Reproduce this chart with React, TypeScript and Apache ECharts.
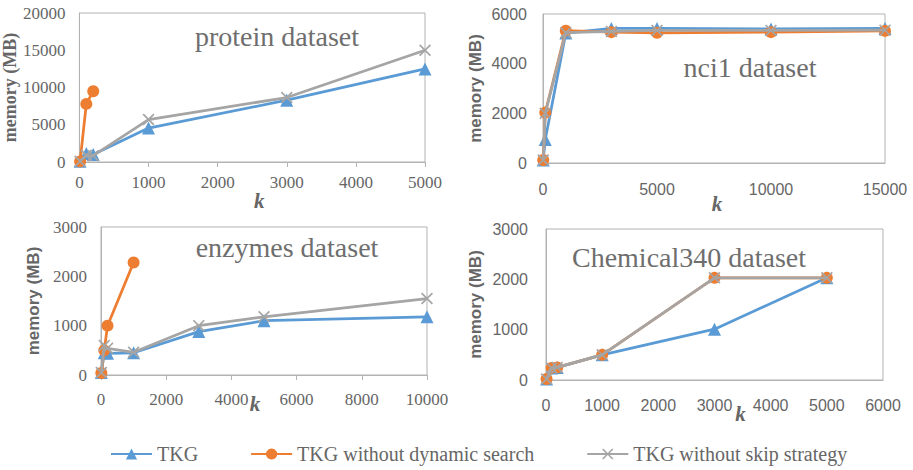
import React, { useEffect, useRef } from "react";
import * as echarts from "echarts";

// ---------- data ----------
const seriesNames = ["TKG", "TKG without dynamic search", "TKG without skip strategy"];
const panelTitles = ["protein dataset", "nci1 dataset", "enzymes dataset", "Chemical340 dataset"];

const proteinK = [10, 100, 200, 1000, 3000, 5000];
const proteinTKG = [100, 1150, 1000, 4550, 8300, 12500];
const proteinNoDynK = [10, 100, 200];
const proteinNoDyn = [80, 7800, 9500];
const proteinNoSkip = [100, 900, 850, 5700, 8650, 15000];
const proteinXTicks = [0, 1000, 2000, 3000, 4000, 5000];
const proteinYTicks = [0, 5000, 10000, 15000, 20000];

const nci1K = [10, 100, 1000, 3000, 5000, 10000, 15000];
const nci1TKG = [120, 950, 5230, 5420, 5420, 5400, 5420];
const nci1NoDyn = [120, 2030, 5330, 5270, 5240, 5270, 5320];
const nci1NoSkip = [120, 2000, 5250, 5300, 5340, 5340, 5350];
const nci1XTicks = [0, 5000, 10000, 15000];
const nci1YTicks = [0, 2000, 4000, 6000];

const enzymesK = [10, 100, 200, 1000, 3000, 5000, 10000];
const enzymesTKG = [50, 450, 440, 450, 880, 1100, 1180];
const enzymesNoDynK = [10, 100, 200, 1000];
const enzymesNoDyn = [40, 500, 1000, 2280];
const enzymesNoSkip = [50, 600, 540, 460, 1000, 1180, 1550];
const enzymesXTicks = [0, 2000, 4000, 6000, 8000, 10000];
const enzymesYTicks = [0, 1000, 2000, 3000];

const chemK = [10, 100, 200, 1000, 3000, 5000];
const chemTKG = [20, 240, 250, 500, 1010, 2030];
const chemNoDyn = [20, 240, 250, 500, 2030, 2030];
const chemNoSkip = [20, 240, 250, 500, 2030, 2030];
const chemXTicks = [0, 1000, 2000, 3000, 4000, 5000, 6000];
const chemYTicks = [0, 1000, 2000, 3000];

// ---------- style ----------
const BLUE = "#5B9BD5";
const ORANGE = "#ED7D31";
const GRAY = "#A5A5A5";
const TEXT = "#666666";
const BORDER = "#B3B3B3";
const SERIF = "'Liberation Serif', 'Times New Roman', serif";
const SANS = "'Liberation Sans', Arial, sans-serif";
const CROSS = "path://M1,0L5,4L9,0L10,1L6,5L10,9L9,10L5,6L1,10L0,9L4,5L0,1Z";

const zip = (xs: number[], ys: number[]) => ys.map((y, i) => [xs[i], y]);

type Panel = {
  grid: { left: number; top: number; width: number; height: number };
  xTicks: number[];
  yTicks: number[];
  labelFont: string;
  yTitleFont: string;
  xMargin: number;
  yMargin: number;
  yGap: number;
  kGap: number;
  kShift: number;
  xTickShow: boolean;
  title: { x: number; y: number };
  data: number[][][];
};

const panels: Panel[] = [
  {
    grid: { left: 79, top: 13, width: 346, height: 149 },
    xTicks: proteinXTicks,
    yTicks: proteinYTicks,
    labelFont: SERIF,
    yTitleFont: SERIF,
    xMargin: 12,
    yMargin: 14,
    yGap: 56,
    kGap: 28,
    kShift: 7,
    xTickShow: true,
    title: { x: 277, y: 36 },
    data: [zip(proteinK, proteinTKG), zip(proteinNoDynK, proteinNoDyn), zip(proteinK, proteinNoSkip)],
  },
  {
    grid: { left: 543, top: 14, width: 342, height: 149 },
    xTicks: nci1XTicks,
    yTicks: nci1YTicks,
    labelFont: SANS,
    yTitleFont: SANS,
    xMargin: 18,
    yMargin: 16,
    yGap: 59,
    kGap: 30,
    kShift: 3,
    xTickShow: false,
    title: { x: 750, y: 67 },
    data: [zip(nci1K, nci1TKG), zip(nci1K, nci1NoDyn), zip(nci1K, nci1NoSkip)],
  },
  {
    grid: { left: 101, top: 227, width: 326, height: 148 },
    xTicks: enzymesXTicks,
    yTicks: enzymesYTicks,
    labelFont: SERIF,
    yTitleFont: SANS,
    xMargin: 16,
    yMargin: 14,
    yGap: 59,
    kGap: 18,
    kShift: -9,
    xTickShow: true,
    title: { x: 287, y: 247 },
    data: [zip(enzymesK, enzymesTKG), zip(enzymesNoDynK, enzymesNoDyn), zip(enzymesK, enzymesNoSkip)],
  },
  {
    grid: { left: 546, top: 229, width: 337, height: 151 },
    xTicks: chemXTicks,
    yTicks: chemYTicks,
    labelFont: SANS,
    yTitleFont: SANS,
    xMargin: 17,
    yMargin: 18,
    yGap: 62,
    kGap: 23,
    kShift: 26,
    xTickShow: false,
    title: { x: 689, y: 257 },
    data: [zip(chemK, chemTKG), zip(chemK, chemNoDyn), zip(chemK, chemNoSkip)],
  },
];

const colors = [BLUE, ORANGE, GRAY];
const symbols = ["triangle", "circle", CROSS];
const symbolSizes = [13, 12, 12];

export default function App() {
  const ref = useRef<HTMLDivElement>(null);

  useEffect(() => {
    if (!ref.current) return;
    const chart = echarts.init(ref.current, undefined, { renderer: "svg" });

    const grid = panels.map((p) => ({
      ...p.grid,
      show: true,
      borderColor: BORDER,
      borderWidth: 1,
      backgroundColor: "transparent",
      containLabel: false,
    }));

    const xAxis = panels.map((p, i) => ({
      type: "value",
      gridIndex: i,
      min: p.xTicks[0],
      max: p.xTicks[p.xTicks.length - 1],
      interval: p.xTicks[1] - p.xTicks[0],
      name: "k",
      nameLocation: "middle",
      nameGap: p.kGap,
      nameMoveOverlap: false,
      nameTextStyle: {
        fontFamily: SERIF,
        fontWeight: "bold",
        fontStyle: "italic",
        fontSize: 21,
        color: TEXT,
        padding: p.kShift >= 0 ? [0, 0, 0, p.kShift * 2] : [0, -p.kShift * 2, 0, 0],
      },
      splitLine: { show: false },
      axisLine: { show: true, lineStyle: { color: BORDER, width: 1 } },
      axisTick: { show: p.xTickShow, length: 5, lineStyle: { color: BORDER } },
      axisLabel: {
        margin: p.xMargin,
        fontFamily: p.labelFont,
        fontSize: p.labelFont === SERIF ? 17 : 16,
        color: TEXT,
        formatter: (v: number) => String(v),
      },
    }));

    const yAxis = panels.map((p, i) => ({
      type: "value",
      gridIndex: i,
      min: p.yTicks[0],
      max: p.yTicks[p.yTicks.length - 1],
      interval: p.yTicks[1] - p.yTicks[0],
      name: "memory (MB)",
      nameLocation: "middle",
      nameRotate: 90,
      nameGap: p.yGap,
      nameTextStyle: {
        fontFamily: p.yTitleFont,
        fontWeight: "bold",
        fontSize: p.yTitleFont === SERIF ? 18 : 17,
        color: TEXT,
      },
      splitLine: { show: false },
      axisLine: { show: true, lineStyle: { color: BORDER, width: 1 } },
      axisTick: { show: false },
      axisLabel: {
        margin: p.yMargin,
        fontFamily: p.labelFont,
        fontSize: p.labelFont === SERIF ? 17 : 16,
        color: TEXT,
        formatter: (v: number) => String(v),
      },
    }));

    const series: any[] = [];
    panels.forEach((p, i) => {
      p.data.forEach((d, s) => {
        series.push({
          type: "line",
          name: seriesNames[s],
          xAxisIndex: i,
          yAxisIndex: i,
          data: d,
          symbol: symbols[s],
          symbolSize: symbolSizes[s],
          showAllSymbol: true,
          color: colors[s],
          itemStyle: { color: colors[s] },
          lineStyle: { color: colors[s], width: 2.75 },
          z: 2 + s,
        });
      });
    });

    const graphic = panels.map((p, i) => ({
      type: "text",
      x: p.title.x,
      y: p.title.y,
      style: {
        text: panelTitles[i],
        fontFamily: SERIF,
        fontSize: 28,
        fill: "#6E6E6E",
        align: "center",
        verticalAlign: "middle",
      },
      z: 10,
    }));

    chart.setOption({
      animation: false,
      backgroundColor: "#FFFFFF",
      grid,
      xAxis,
      yAxis,
      series,
      graphic,
      legend: {
        data: seriesNames,
        left: 110,
        top: 444,
        padding: 0,
        itemWidth: 41,
        itemHeight: 14,
        itemGap: 52,
        textStyle: { fontFamily: SERIF, fontSize: 20, color: TEXT },
      },
    });

    return () => chart.dispose();
  }, []);

  return (
    <div
      ref={ref}
      style={{ position: "fixed", left: 0, top: 0, width: 913, height: 470, background: "#fff" }}
    />
  );
}
